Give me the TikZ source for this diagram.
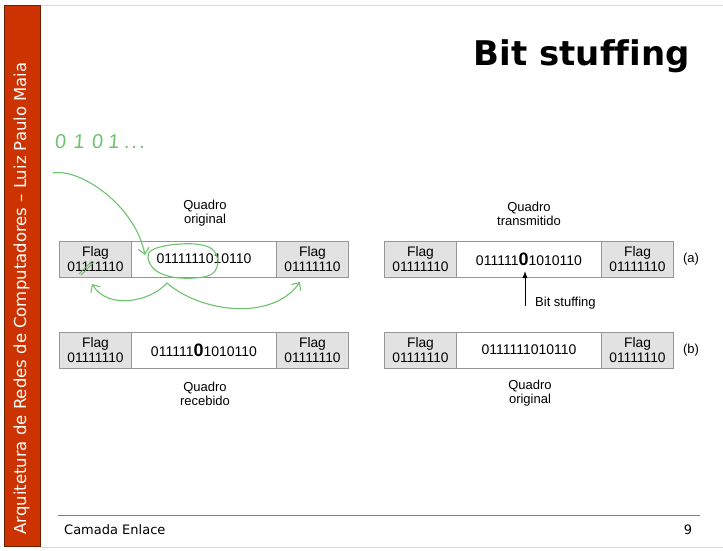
\documentclass[tikz,border=0pt]{standalone}
\usepackage{fontspec}
\setmainfont[Ligatures=NoCommon]{Liberation Sans}
\newfontfamily\dejavu[Ligatures=NoCommon]{DejaVu Sans}
\usetikzlibrary{arrows.meta}
\definecolor{sidebar}{RGB}{204,51,0}
\definecolor{sideedge}{RGB}{110,30,0}
\definecolor{flagfill}{RGB}{226,226,226}
\definecolor{boxedge}{RGB}{150,150,150}
\definecolor{annot}{RGB}{110,195,110}
\begin{document}
\begin{tikzpicture}[x=1pt,y=-1pt,
  flagbox/.style={draw=boxedge, fill=flagfill, minimum width=72pt, minimum height=36pt,
    inner sep=0pt, align=center, font=\fontsize{13.8}{14.5}\selectfont},
  databox/.style={draw=boxedge, fill=white, minimum width=145pt, minimum height=36pt,
    inner sep=0pt, font=\fontsize{14}{15}\selectfont},
  lbl/.style={align=center, inner sep=0pt, font=\fontsize{13}{14}\selectfont},
  annotline/.style={draw=annot, line width=1.1pt, line cap=round, line join=round},
  annotarrow/.style={annotline, -{Straight Barb[length=6pt,width=11pt,line width=1.1pt]}}]
\useasboundingbox (0,0) rectangle (723,551);
\fill[white] (0,0) rectangle (723,551);
% slide frame
\draw[black!15] (40,5) -- (723,5);
\draw[black!15] (40,547) -- (723,547);
\fill[sidebar] (4,5) rectangle (40,546);
\draw[sideedge, line width=0.8pt] (4,5) rectangle (40,546);
\node[rotate=90, text=white, inner sep=0pt, font=\dejavu\fontsize{16.5}{17}\selectfont] (sidetext) at (21.5,298.5)
  {Arquitetura de Redes de Computadores – Luiz Paulo Maia};
\node[anchor=base east, inner sep=0pt, font=\dejavu\bfseries\fontsize{34}{34}\selectfont] (title) at (690,66) {Bit stuffing};
\draw[black!50, line width=0.8pt] (58,515) -- (700,515);
\node[anchor=west, inner sep=0pt, font=\dejavu\fontsize{13}{14}\selectfont] (footer) at (64,530) {Camada Enlace};
\node[inner sep=0pt, font=\dejavu\fontsize{13}{14}\selectfont] (pagenum) at (688,530) {9};
% frame (a) left: original
\node[flagbox] (fa1) at (95.5,259) {Flag\\01111110};
\node[databox] (da1) at (204,259) {0111111010110};
\node[flagbox] (ga1) at (312.5,259) {Flag\\01111110};
% frame (a) right: transmitted
\node[flagbox] (fa2) at (420.5,259) {Flag\\01111110};
\node[databox] (da2) at (529,259) {011111{\bfseries\fontsize{18}{18}\selectfont 0}1010110};
\node[flagbox] (ga2) at (637.5,259) {Flag\\01111110};
% frame (b) left: received
\node[flagbox] (fb1) at (95.5,350) {Flag\\01111110};
\node[databox] (db1) at (204,350) {011111{\bfseries\fontsize{18}{18}\selectfont 0}1010110};
\node[flagbox] (gb1) at (312.5,350) {Flag\\01111110};
% frame (b) right: original
\node[flagbox] (fb2) at (420.5,350) {Flag\\01111110};
\node[databox] (db2) at (529,350) {0111111010110};
\node[flagbox] (gb2) at (637.5,350) {Flag\\01111110};
% labels
\node[lbl] (q1) at (205,213.5) {Quadro\\original};
\node[lbl] (q2) at (529,213.5) {Quadro\\transmitido};
\node[lbl] (q3) at (205,393.5) {Quadro\\recebido};
\node[lbl] (q4) at (530,393) {Quadro\\original};
\node[lbl] (la) at (691,259) {(a)};
\node[lbl] (lb) at (691,350) {(b)};
\node[lbl, anchor=west] (bs) at (535,303) {Bit stuffing};
\coordinate (bsfoot) at (525,306);
\coordinate (bstip) at (525,271);
\draw[line width=0.8pt, -{Latex[length=7pt,width=5pt]}] (bsfoot) -- (bstip);
% green hand annotations
\node[anchor=west, inner sep=0pt, text=annot, xslant=0.08, font=\fontsize{20}{20}\selectfont] (hand) at (55,142)
  {0\hspace{7.4pt}1\hspace{7.4pt}0\hspace{5pt}1\hspace{5pt}.\hspace{2pt}.\hspace{2pt}.};
\coordinate (c1s) at (53,173);
\coordinate (c1e) at (145,255);
\draw[annotarrow] (c1s) .. controls (80,168) and (135,205) .. (c1e);
\draw[annotline] plot[smooth cycle, tension=0.6] coordinates
  {(152,250) (170,245) (195,244) (212,249) (218,262) (212,274) (195,278) (172,277) (155,270) (148,258)};
\draw[annot!70!gray, line width=0.8pt] (79,274) -- (92,261);
\draw[annot!70!gray, line width=0.8pt] (81,275) -- (94,262);
\coordinate (brk) at (167,283);
\coordinate (brl) at (92,284);
\coordinate (brr) at (300,282);
\draw[annotarrow] (brk) .. controls (150,302) and (108,310) .. (brl);
\draw[annotarrow] (brk) .. controls (200,312) and (272,322) .. (brr);
\end{tikzpicture}
\end{document}
